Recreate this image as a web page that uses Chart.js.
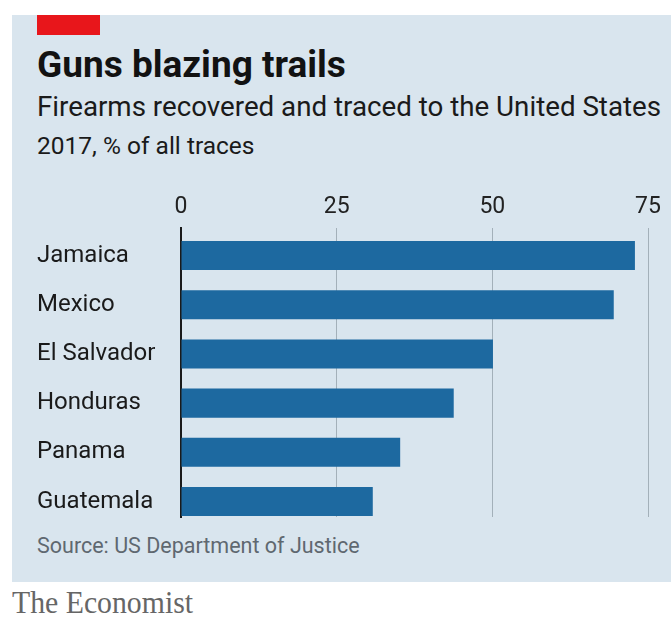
<!DOCTYPE html>
<html>
<head>
<meta charset="utf-8">
<script src="https://cdn.jsdelivr.net/npm/chart.js@4.4.1/dist/chart.umd.min.js"></script>
<style>
  body { margin: 0; width: 671px; height: 619px; background: #fff; position: relative; overflow: hidden; font-family: Roboto, "Open Sans", sans-serif; }
  #panel { position: absolute; left: 12px; top: 15px; width: 659px; height: 567px; background: #d9e5ee; }
  #redbar { position: absolute; left: 37px; top: 15px; width: 63px; height: 20px; background: #e8161b; }
  .txt { position: absolute; white-space: nowrap; transform-origin: left top; }
  #title { left: 37px; top: 43px; font-size: 37px; font-weight: bold; color: #121212; }
  #sub { left: 37px; top: 90px; font-size: 28px; color: #1a1a1a; transform: scaleX(0.99); }
  #sub2 { left: 37px; top: 131px; font-size: 24.5px; color: #1a1a1a; }
  #source { left: 37px; top: 533px; font-size: 21.5px; color: #5f6870; }
  #brand { left: 12px; top: 585px; font-size: 31px; color: #666; font-family: "Liberation Serif", "DejaVu Serif", serif; transform: scaleX(0.96); }
  #wrap { position: absolute; left: 0; top: 0; width: 671px; height: 619px; }
</style>
</head>
<body>
<div id="panel"></div>
<div id="redbar"></div>
<div class="txt" id="title">Guns blazing trails</div>
<div class="txt" id="sub">Firearms recovered and traced to the United States</div>
<div class="txt" id="sub2">2017, % of all traces</div>
<div class="txt" id="source">Source: US Department of Justice</div>
<div class="txt" id="brand">The Economist</div>
<div id="wrap"><canvas id="grafico" width="671" height="619"></canvas></div>
<script>
    // dados
    const paises = ['Jamaica', 'Mexico', 'El Salvador', 'Honduras', 'Panama', 'Guatemala'];
    const valores = [72.9, 69.5, 50.1, 43.8, 35.2, 30.8];
    const marcas = [0, 25, 50, 75];

    const ctx = document.getElementById('grafico').getContext('2d');

    // cada país vira um ponto {x: valor, y: posição}
    const pontos = valores.map((v, i) => ({ x: v, y: i }));

    new Chart(ctx, {
        type: 'bar',
        data: {
            datasets: [
                {
                    data: pontos,
                    backgroundColor: '#1d69a0',
                    barPercentage: 0.59,
                    categoryPercentage: 1,
                },
            ],
        },
        options: {
            indexAxis: 'y',
            responsive: false,
            animation: false,
            layout: {
                padding: { left: 37, top: 187, right: 23, bottom: 102 },
            },
            plugins: {
                legend: { display: false },
                tooltip: { enabled: false },
            },
            scales: {
                x: {
                    position: 'top',
                    min: 0,
                    max: 75,
                    afterBuildTicks: function (scale) {
                        scale.ticks = marcas.map((v) => ({ value: v }));
                    },
                    afterFit: function (scale) {
                        scale.height = 41;
                    },
                    grid: {
                        color: function (c) {
                            return c.tick && c.tick.value === 0 ? 'rgba(0,0,0,0)' : '#a3b0b9';
                        },
                        lineWidth: 1,
                        drawTicks: false,
                    },
                    border: { display: false },
                    ticks: {
                        padding: 7,
                        color: '#222',
                        font: { family: 'Roboto', size: 23 },
                    },
                },
                y: {
                    type: 'linear',
                    reverse: true,
                    offset: false,
                    min: -0.56,
                    max: 5.315,
                    afterBuildTicks: function (scale) {
                        scale.ticks = paises.map((p, i) => ({ value: i }));
                    },
                    afterFit: function (scale) {
                        scale.width = 144;
                    },
                    grid: { display: false, drawTicks: false, offset: false },
                    border: { display: true, color: '#1a1a1a', width: 2 },
                    ticks: {
                        crossAlign: 'far',
                        padding: 0,
                        color: '#1a1a1a',
                        font: { family: 'Roboto', size: 24 },
                        callback: function (v) {
                            return paises[v];
                        },
                    },
                },
            },
        },
    });
</script>
</body>
</html>
